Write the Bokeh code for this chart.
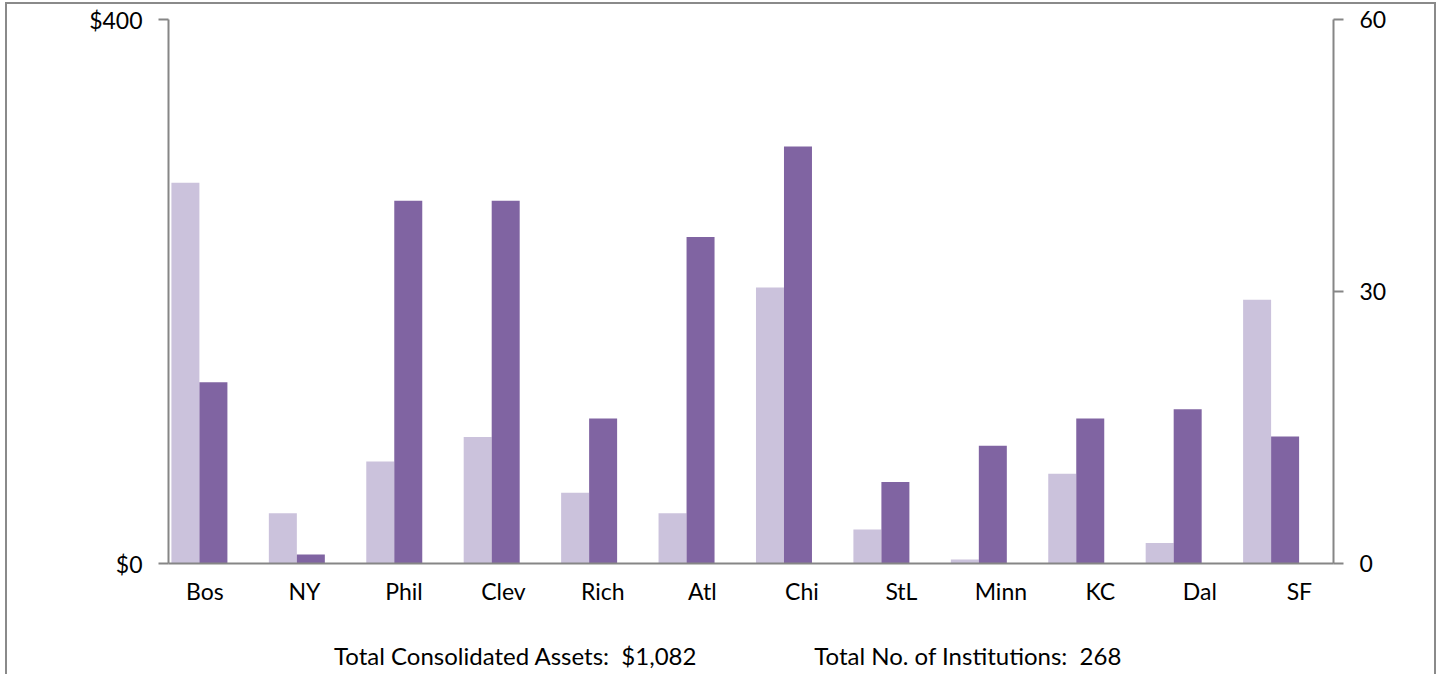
from bokeh.plotting import figure
from bokeh.models import Range1d, LinearAxis, FixedTicker
from bokeh.embed import file_html
from bokeh.resources import INLINE

# ---- data ----
districts = ["Bos", "NY", "Phil", "Clev", "Rich", "Atl", "Chi", "StL", "Minn", "KC", "Dal", "SF"]
assets = [280, 37, 75, 93, 52, 37, 203, 25, 3, 66, 15, 194]          # $ billions (left axis)
institutions = [20, 1, 40, 40, 16, 36, 46, 9, 13, 16, 17, 14]         # count (right axis)
left_ticks = [0, 400]
left_tick_labels = ["$0", "$400"]
right_ticks = [0, 30, 60]
footer_texts = ["Total Consolidated Assets:\u00a0 $1,082", "Total No. of Institutions:\u00a0 268"]

LIGHT = "#CBC2DC"
DARK = "#8064A2"
AXIS = "#868686"
FONT = "Lato"
TICK_FS = "23px"

p = figure(width=1436, height=674, output_backend="svg", toolbar_location=None,
           x_range=Range1d(-0.366, 11.343), y_range=Range1d(0, 400),
           min_border_left=168, min_border_right=103, min_border_top=19, min_border_bottom=111)
p.extra_y_ranges = {"right": Range1d(0, 60)}
p.outline_line_color = None
p.background_fill_color = "white"
p.border_fill_color = None
G = "#8a8a8a"
p.styles = {"background-color": "white",
            "box-shadow": ("inset 5px 0 0 0 white, inset 0 2px 0 0 white, "
                           f"inset 7px 0 0 0 {G}, inset 0 4px 0 0 {G}, inset -2px 0 0 0 {G}")}

idx = list(range(len(districts)))
x_light = [-0.196 + 0.9792 * i for i in idx]
x_dark = [0.0854 + 0.9792 * i for i in idx]
bw = 0.2814

p.vbar(x=x_light, top=assets, bottom=0, width=bw, fill_color=LIGHT, line_color=None)
p.vbar(x=x_dark, top=institutions, bottom=0, width=bw, fill_color=DARK, line_color=None,
       y_range_name="right")

# grid
p.xgrid.visible = False
p.ygrid.ticker = FixedTicker(ticks=[400])
p.ygrid.grid_line_color = "#D9E2EE"
p.ygrid.grid_line_width = 2

# x axis (district labels)
xa = p.xaxis[0]
xa.ticker = FixedTicker(ticks=idx)
xa.major_label_overrides = {i: d for i, d in zip(idx, districts)}
xa.axis_line_color = AXIS
xa.axis_line_width = 2
xa.major_tick_line_color = None
xa.major_tick_out = 0
xa.major_tick_in = 0
xa.minor_tick_line_color = None
xa.major_label_standoff = 13
xa.major_label_text_font = FONT
xa.major_label_text_font_size = TICK_FS
xa.major_label_text_color = "black"

# footer texts (as an unlined axis below)
foot_pos = [3.123, 7.670]
fa = LinearAxis(ticker=FixedTicker(ticks=foot_pos))
fa.major_label_overrides = {t: s for t, s in zip(foot_pos, footer_texts)}
fa.axis_line_color = None
fa.major_tick_line_color = None
fa.major_tick_out = 0
fa.major_tick_in = 0
fa.minor_tick_line_color = None
fa.major_label_standoff = 33
fa.major_label_text_font = FONT
fa.major_label_text_font_size = "24px"
fa.major_label_text_color = "black"
p.add_layout(fa, "below")

# left axis
ya = p.yaxis[0]
ya.ticker = FixedTicker(ticks=left_ticks)
ya.major_label_overrides = {t: l for t, l in zip(left_ticks, left_tick_labels)}
ya.axis_line_color = AXIS
ya.axis_line_width = 2
ya.major_tick_line_color = AXIS
ya.major_tick_line_width = 2
ya.major_tick_out = 10
ya.major_tick_in = 0
ya.minor_tick_line_color = None
ya.major_label_standoff = 16
ya.major_label_text_font = FONT
ya.major_label_text_font_size = TICK_FS
ya.major_label_text_color = "black"

# right axis
ra = LinearAxis(y_range_name="right", ticker=FixedTicker(ticks=right_ticks))
ra.axis_line_color = AXIS
ra.axis_line_width = 2
ra.major_tick_line_color = AXIS
ra.major_tick_line_width = 2
ra.major_tick_out = 10
ra.major_tick_in = 0
ra.minor_tick_line_color = None
ra.major_label_standoff = 16
ra.major_label_text_font = FONT
ra.major_label_text_font_size = TICK_FS
ra.major_label_text_color = "black"
p.add_layout(ra, "right")

open("out.html", "w").write(file_html(p, INLINE))
